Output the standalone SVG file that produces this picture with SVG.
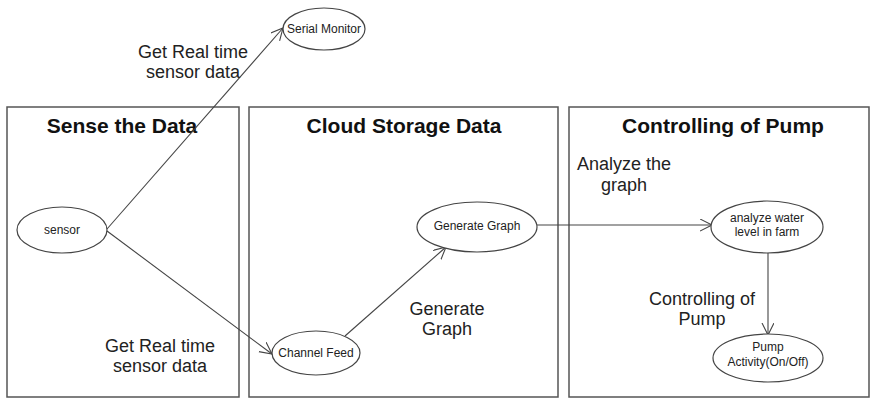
<svg xmlns="http://www.w3.org/2000/svg" width="872" height="399" viewBox="0 0 872 399">
<style>
.box{fill:none;stroke:#555;stroke-width:1.5}
.title{font-family:"Liberation Sans",Arial,sans-serif;font-size:21px;font-weight:bold;fill:#111;text-anchor:middle}
.node ellipse{fill:#fff;stroke:#444;stroke-width:1.2}
.node text{font-family:"Liberation Sans",Arial,sans-serif;font-size:12px;fill:#222;text-anchor:middle}
.lbl{font-family:"Liberation Sans",Arial,sans-serif;font-size:18px;fill:#222;text-anchor:middle}
.edge{fill:none;stroke:#444;stroke-width:1.1;marker-end:url(#arr)}
</style>
<defs>
<marker id="arr" markerWidth="14" markerHeight="14" refX="12" refY="6" orient="auto" markerUnits="userSpaceOnUse">
<path d="M0,0 L12,6 L0,12" fill="none" stroke="#444" stroke-width="1.1"/>
</marker>
</defs>
<rect width="872" height="399" fill="#fff"/>
<g id="panels">
<rect class="box" x="7" y="107" width="232" height="290"/>
<rect class="box" x="249" y="107" width="309" height="290"/>
<rect class="box" x="569" y="107" width="300" height="290"/>
<text class="title" x="122" y="133">Sense the Data</text>
<text class="title" x="404" y="133">Cloud Storage Data</text>
<text class="title" x="723" y="133">Controlling of Pump</text>
</g>
<g id="connectors">
<line class="edge" x1="107" y1="229" x2="283" y2="28"/>
<line class="edge" x1="107" y1="231" x2="272" y2="354"/>
<line class="edge" x1="345" y1="336" x2="446" y2="247"/>
<line class="edge" x1="537" y1="225" x2="712" y2="225"/>
<line class="edge" x1="768" y1="253" x2="768" y2="335"/>
</g>
<g id="labels">
<text class="lbl" x="193" y="58">Get Real time</text>
<text class="lbl" x="193" y="78">sensor data</text>
<text class="lbl" x="160" y="352">Get Real time</text>
<text class="lbl" x="160" y="372">sensor data</text>
<text class="lbl" x="447" y="315">Generate</text>
<text class="lbl" x="447" y="335">Graph</text>
<text class="lbl" x="624" y="170">Analyze the</text>
<text class="lbl" x="624" y="191">graph</text>
<text class="lbl" x="702" y="305">Controlling of</text>
<text class="lbl" x="702" y="325">Pump</text>
</g>
<g id="serial-monitor" class="node">
<ellipse cx="324" cy="29" rx="41" ry="21"/>
<text x="324" y="33">Serial Monitor</text>
</g>
<g id="sensor" class="node">
<ellipse cx="62" cy="230" rx="45" ry="23"/>
<text x="62" y="234">sensor</text>
</g>
<g id="channel-feed" class="node">
<ellipse cx="316" cy="353" rx="44" ry="22"/>
<text x="316" y="357">Channel Feed</text>
</g>
<g id="generate-graph" class="node">
<ellipse cx="477" cy="227" rx="60" ry="25"/>
<text x="477" y="230">Generate Graph</text>
</g>
<g id="analyze-water" class="node">
<ellipse cx="767" cy="227" rx="56" ry="26"/>
<text x="767" y="222">analyze water</text>
<text x="767" y="236">level in farm</text>
</g>
<g id="pump-activity" class="node">
<ellipse cx="768" cy="358" rx="55" ry="24"/>
<text x="768" y="351">Pump</text>
<text x="768" y="366">Activity(On/Off)</text>
</g>
</svg>
